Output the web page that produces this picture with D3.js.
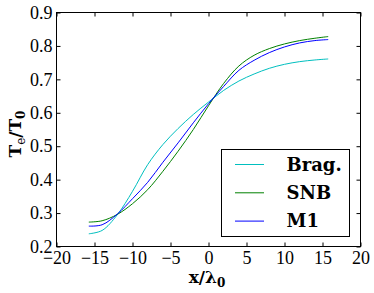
<!DOCTYPE html>
<html>
<head>
<meta charset="utf-8">
<script src="https://cdn.jsdelivr.net/npm/d3@7"></script>
<style>
  body { margin: 0; background: #fff; }
  svg { display: block; }
  .serif { font-family: "Liberation Serif", "Times New Roman", serif; }
  .bold-serif { font-family: "DejaVu Serif", serif; font-weight: bold; }
</style>
</head>
<body>
<div id="chart"></div>
<script>
// positions along x/lambda0
var x_vals = [-15.75, -14, -12, -10, -8, -6, -4, -2, 0, 2, 4, 6, 8, 10, 12, 14, 15.75];
// Te/T0 for each model
var brag = [0.238, 0.248, 0.295, 0.365, 0.445, 0.505, 0.553, 0.595, 0.632, 0.667, 0.695, 0.716, 0.733, 0.745, 0.753, 0.758, 0.761];
var snb  = [0.273, 0.277, 0.296, 0.328, 0.370, 0.425, 0.485, 0.550, 0.621, 0.688, 0.740, 0.772, 0.792, 0.806, 0.816, 0.823, 0.828];
var m1   = [0.261, 0.265, 0.297, 0.343, 0.392, 0.452, 0.510, 0.570, 0.627, 0.679, 0.727, 0.757, 0.780, 0.797, 0.809, 0.816, 0.819];
var series_names = ["Brag.", "SNB", "M1"];
var series_colors = ["#00bfbf", "#008000", "#0000ff"];
var x_ticks = [-20, -15, -10, -5, 0, 5, 10, 15, 20];
var y_ticks = [0.2, 0.3, 0.4, 0.5, 0.6, 0.7, 0.8, 0.9];

var width = 374, height = 293;
var svg = d3.select("#chart").append("svg")
    .attr("width", width)
    .attr("height", height);
svg.append("rect").attr("width", width).attr("height", height).attr("fill", "#fff");

var x = d3.scaleLinear().domain([-20, 20]).range([56.5, 360.5]);
var y = d3.scaleLinear().domain([0.2, 0.9]).range([246.5, 12.5]);

// bottom axis with labels, inward ticks
var gx = svg.append("g")
    .attr("transform", `translate(0, ${y.range()[0]})`)
    .call(d3.axisBottom(x).tickValues(x_ticks).tickFormat(d3.format("d"))
        .tickSizeInner(-4).tickSizeOuter(0).tickPadding(5));
// left axis with labels
var gy = svg.append("g")
    .attr("transform", `translate(${x.range()[0]}, 0)`)
    .call(d3.axisLeft(y).tickValues(y_ticks).tickFormat(d3.format(".1f"))
        .tickSizeInner(-4).tickSizeOuter(0).tickPadding(4));
// top and right, ticks only
svg.append("g")
    .attr("transform", `translate(0, ${y.range()[1]})`)
    .call(d3.axisTop(x).tickValues(x_ticks).tickFormat("")
        .tickSizeInner(-4).tickSizeOuter(0));
svg.append("g")
    .attr("transform", `translate(${x.range()[1]}, 0)`)
    .call(d3.axisRight(y).tickValues(y_ticks).tickFormat("")
        .tickSizeInner(-4).tickSizeOuter(0));

svg.selectAll(".domain").remove();
svg.selectAll(".tick line").attr("stroke", "#000");
gx.attr("font-family", null).attr("font-size", 18);
gy.attr("font-family", null).attr("font-size", 18);
svg.selectAll(".tick text").attr("fill", "#000").attr("class", "serif");

// frame
svg.append("rect")
    .attr("x", x.range()[0])
    .attr("y", y.range()[1])
    .attr("width", x.range()[1] - x.range()[0])
    .attr("height", y.range()[0] - y.range()[1])
    .attr("fill", "none")
    .attr("stroke", "#000")
    .attr("stroke-width", 1);

// curves
var line = d3.line()
    .x(d => x(d[0]))
    .y(d => y(d[1]))
    .curve(d3.curveCatmullRom);

[brag, snb, m1].forEach((vals, i) => {
    svg.append("path")
        .datum(x_vals.map((xv, j) => [xv, vals[j]]))
        .attr("d", line)
        .attr("fill", "none")
        .attr("stroke", series_colors[i])
        .attr("stroke-width", 1);
});

// legend
var legend = svg.append("g");
legend.append("rect")
    .attr("x", 221.5).attr("y", 149.5)
    .attr("width", 128).attr("height", 87)
    .attr("fill", "#fff")
    .attr("stroke", "#000")
    .attr("stroke-width", 1);
series_names.forEach((name, i) => {
    let ly = 164.5 + i * 28.3;
    legend.append("line")
        .attr("x1", 235).attr("x2", 264)
        .attr("y1", ly).attr("y2", ly)
        .attr("stroke", series_colors[i])
        .attr("stroke-width", 1);
    legend.append("text")
        .attr("class", "bold-serif")
        .attr("x", 286.5).attr("y", ly + 6.3)
        .attr("font-size", 18)
        .text(name);
});

// axis labels
var xl = svg.append("text")
    .attr("class", "bold-serif")
    .attr("x", 207).attr("y", 283)
    .attr("text-anchor", "middle")
    .attr("font-size", 17);
xl.append("tspan").text("x/λ");
xl.append("tspan").attr("dy", 4).attr("font-size", 12).text("0");

var yl = svg.append("text")
    .attr("class", "bold-serif")
    .attr("transform", "translate(21, 134) rotate(-90)")
    .attr("text-anchor", "middle")
    .attr("font-size", 17);
yl.append("tspan").text("T");
yl.append("tspan").attr("dy", 4).attr("font-size", 12).style("font-weight", "normal").text("e");
yl.append("tspan").attr("dy", -4).text("/T");
yl.append("tspan").attr("dy", 4).attr("font-size", 12).text("0");
</script>
</body>
</html>
